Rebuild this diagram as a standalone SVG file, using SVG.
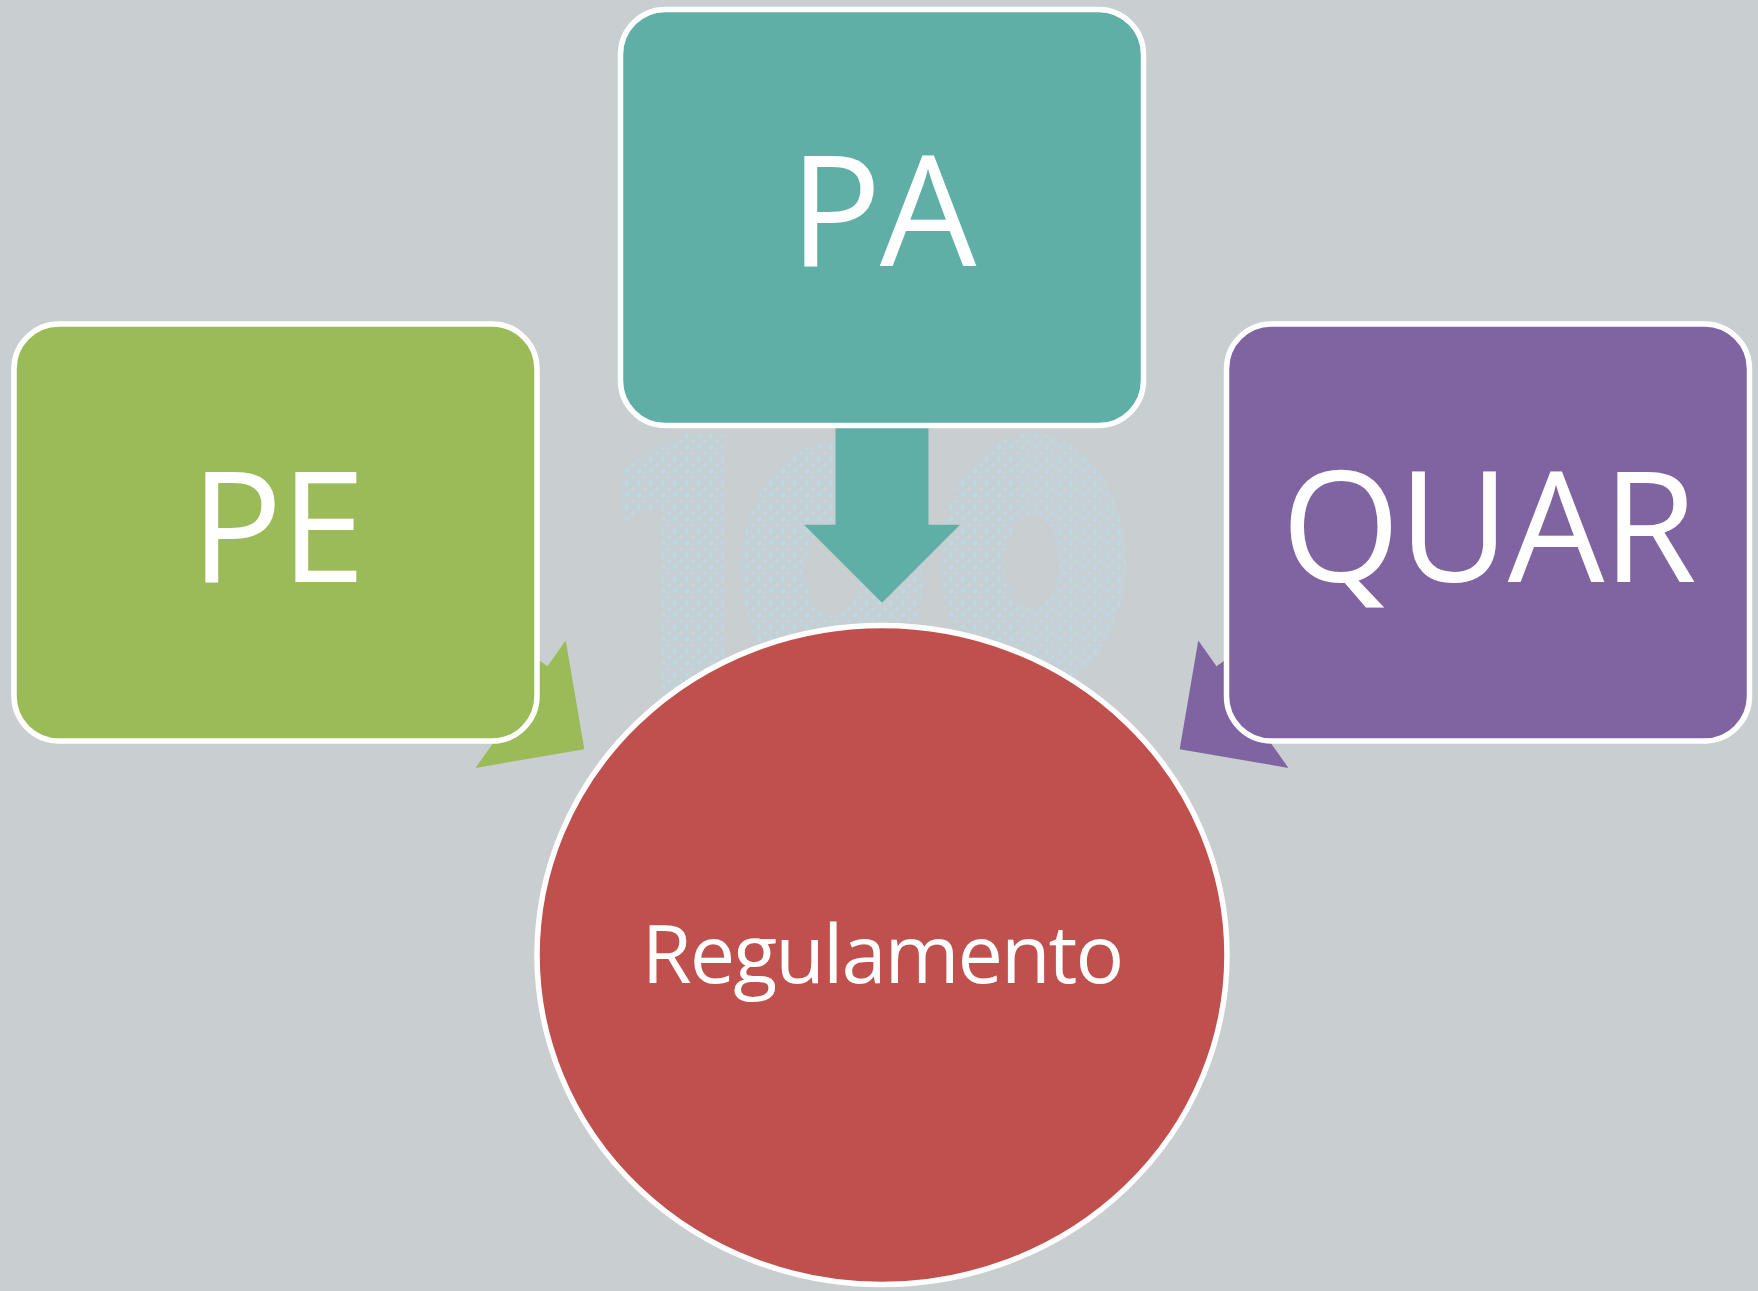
<svg xmlns="http://www.w3.org/2000/svg" width="1758" height="1291" viewBox="0 0 1758 1291">
  <defs>
    <style>
      .box { stroke: #FFFFFF; stroke-width: 5.5; }
      .big { font-family: "Open Sans", "Noto Sans", "Liberation Sans", sans-serif; font-size: 153px; fill: #FFFFFF; text-anchor: middle; letter-spacing: -2px; }
      .mid { font-family: "Open Sans", "Noto Sans", "Liberation Sans", sans-serif; font-size: 81px; fill: #FFFFFF; text-anchor: middle; letter-spacing: -2px; }
    </style>
    <path id="arrow" d="M0,0 L-78,-78 L-46.5,-78 L-46.5,-240 L46.5,-240 L46.5,-78 L78,-78 Z"/>
    <pattern id="dots" width="12" height="12" patternUnits="userSpaceOnUse">
      <rect width="12" height="12" fill="#C6D1D5"/>
      <circle cx="3" cy="3" r="2.2" fill="#B4DCEA"/>
      <circle cx="9" cy="9" r="1.6" fill="#BCDCE7"/>
    </pattern>
  </defs>
  <rect width="1758" height="1291" fill="#C9CED1"/>
  <g id="watermark" opacity="0.8">
    <path d="M622,468 L686,434 L724,434 L724,700 L662,700 L662,505 L622,522 Z" fill="url(#dots)"/>
    <path fill-rule="evenodd" fill="url(#dots)" d="M741,570 A92,128 0 1 0 925,570 A92,128 0 1 0 741,570 Z M806,570 A27,46 0 1 0 860,570 A27,46 0 1 0 806,570 Z"/>
    <path fill-rule="evenodd" fill="url(#dots)" d="M940,562 A93,129 0 1 0 1126,562 A93,129 0 1 0 940,562 Z M1005,562 A27,46 0 1 0 1059,562 A27,46 0 1 0 1005,562 Z"/>
  </g>
  <g id="connectors">
    <use href="#arrow" fill="#5FAFA7" transform="translate(882,602.7)"/>
    <use href="#arrow" fill="#9BBB59" transform="translate(584.3,749.3) rotate(-54.7)"/>
    <use href="#arrow" fill="#8064A2" transform="translate(1179.7,749.3) rotate(54.7)"/>
  </g>
  <g id="node-pa">
    <rect class="box" x="620.5" y="9.5" width="523" height="416" rx="45" fill="#5FAFA7"/>
    <text class="big" x="882" y="266">PA</text>
  </g>
  <g id="node-pe">
    <rect class="box" x="14" y="324" width="523" height="417" rx="45" fill="#9BBB59"/>
    <text class="big" x="277" y="582">PE</text>
  </g>
  <g id="node-quar">
    <rect class="box" x="1226.5" y="324" width="523" height="417" rx="45" fill="#8064A2"/>
    <text class="big" x="1488" y="582">QUAR</text>
  </g>
  <g id="node-regulamento">
    <ellipse class="box" cx="882" cy="955" rx="345" ry="329.5" fill="#C0504D"/>
    <text class="mid" x="882" y="983">Regulamento</text>
  </g>
</svg>
